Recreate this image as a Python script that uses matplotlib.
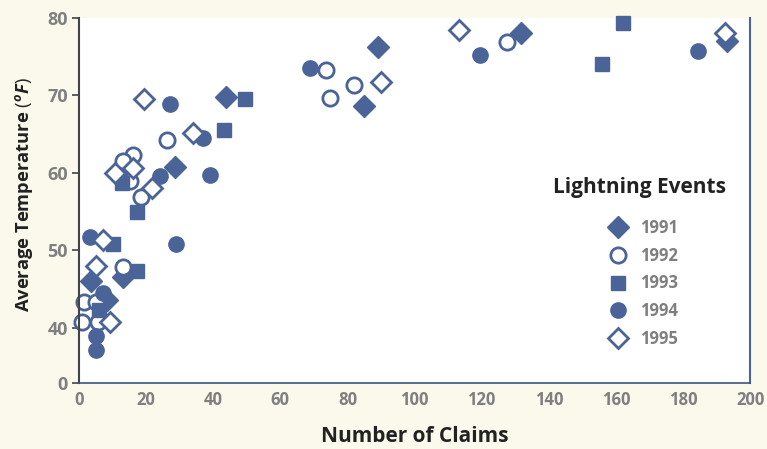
import matplotlib.pyplot as plt
from matplotlib.lines import Line2D

plt.rcParams['font.family'] = ['Open Sans', 'DejaVu Sans']
plt.rcParams['mathtext.fontset'] = 'custom'
plt.rcParams['mathtext.rm'] = 'Open Sans'
plt.rcParams['mathtext.it'] = 'Open Sans:italic:bold'

# valores (numero de sinistros, temperatura media)
x_1991 = [3.5, 8.2, 13.2, 28.6, 43.8, 84.9, 89.0, 131.8, 193.0]
y_1991 = [46.0, 43.6, 46.6, 60.8, 69.8, 68.6, 76.3, 78.0, 77.0]

x_1992 = [16.2, 13.2, 15.2, 18.4, 13.2, 1.5, 5.0, 1.0, 5.7, 26.1, 73.6, 74.8, 82.0, 127.5]
y_1992 = [62.3, 61.5, 58.9, 56.9, 47.9, 43.3, 43.4, 40.8, 40.8, 64.3, 73.3, 69.7, 71.4, 76.9]

x_1993 = [12.7, 17.4, 10.0, 17.2, 6.0, 49.5, 43.3, 162.2, 155.9]
y_1993 = [58.7, 55.0, 50.8, 47.3, 42.3, 69.5, 65.5, 79.3, 74.1]

x_1994 = [3.3, 28.9, 24.1, 7.3, 5.1, 5.1, 39.0, 27.1, 37.1, 68.9, 119.5, 184.6]
y_1994 = [51.7, 50.8, 59.6, 44.5, 39.0, 37.1, 59.7, 68.9, 64.5, 73.5, 75.2, 75.7]

x_1995 = [10.7, 16.2, 21.7, 7.3, 5.1, 9.2, 19.5, 33.9, 90.0, 113.1, 192.5]
y_1995 = [60.0, 60.6, 58.1, 51.3, 48.0, 40.8, 69.5, 65.1, 71.8, 78.5, 78.0]

anos = ['1991', '1992', '1993', '1994', '1995']
yticks = [32.9, 40, 50, 60, 70, 80]
ylabels = ['0', '40', '50', '60', '70', '80']
xticks = list(range(0, 201, 20))

azul = '#4a6497'
fundo = '#fbf9ec'
cinza = '#7f7f7f'

fig = plt.figure(figsize=(7.67, 4.49), dpi=100, facecolor=fundo)
ax = fig.add_axes([0.103, 0.147, 0.875, 0.813])
ax.set_facecolor('white')

ax.plot(x_1991, y_1991, 'D', color=azul, ms=11, ls='none', clip_on=False)
ax.plot(x_1992, y_1992, 'o', mfc='white', mec=azul, mew=2, ms=11, ls='none', clip_on=False)
ax.plot(x_1993, y_1993, 's', color=azul, ms=10, ls='none', clip_on=False)
ax.plot(x_1994, y_1994, 'o', color=azul, ms=11, ls='none', clip_on=False)
ax.plot(x_1995, y_1995, 'D', mfc='white', mec=azul, mew=2, ms=10, ls='none', clip_on=False)

ax.set_xlim(0, 200)
ax.set_ylim(32.9, 80)
ax.set_xticks(xticks)
ax.set_yticks(yticks)
ax.set_yticklabels(ylabels)

for lab in ax.get_xticklabels():
    lab.set_fontweight('bold')
    lab.set_color(cinza)
    lab.set_fontsize(12)
for lab in ax.get_yticklabels():
    lab.set_fontweight('bold')
    lab.set_color(cinza)
    lab.set_fontsize(13)

ax.tick_params(axis='x', length=0, pad=6)
ax.tick_params(axis='y', length=5, width=1.2, color='#444444', pad=3)

ax.spines['top'].set_visible(False)
ax.spines['left'].set_color('#444444')
ax.spines['left'].set_linewidth(1.5)
ax.spines['bottom'].set_color('#3d5580')
ax.spines['bottom'].set_linewidth(1.2)
ax.spines['right'].set_color(azul)
ax.spines['right'].set_linewidth(1.5)

ax.set_xlabel('Number of Claims', fontsize=15, fontweight='bold', color='#222222', labelpad=12)
ax.set_ylabel(r'Average Temperature $\it{(^oF)}$', fontsize=13.2, fontweight='bold', color='#222222')
ax.yaxis.set_label_coords(-0.066, 0.515)

handles = [
    Line2D([], [], marker='D', color=azul, ls='none', ms=11),
    Line2D([], [], marker='o', mfc='white', mec=azul, mew=2, ls='none', ms=11),
    Line2D([], [], marker='s', color=azul, ls='none', ms=10),
    Line2D([], [], marker='o', color=azul, ls='none', ms=11),
    Line2D([], [], marker='D', mfc='white', mec=azul, mew=2, ls='none', ms=10),
]
leg = ax.legend(handles, anos, title='Lightning Events', frameon=False,
                loc='center', bbox_to_anchor=(0.835, 0.33), labelspacing=0.58,
                handletextpad=0.3, prop={'weight': 'bold', 'size': 12})
leg.get_title().set_fontweight('bold')
leg.get_title().set_fontsize(15)
leg.get_title().set_color('#222222')
for t in leg.get_texts():
    t.set_color(cinza)
leg._legend_box.align = 'center'
leg._legend_box.sep = 15

fig.savefig('out.png', dpi=100, facecolor=fundo)
